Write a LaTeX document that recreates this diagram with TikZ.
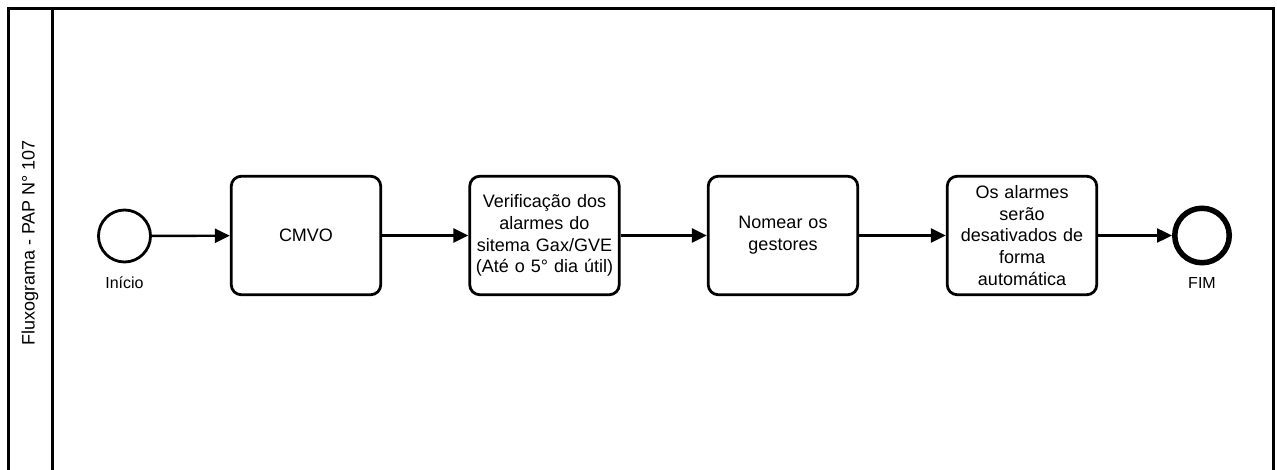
\documentclass[tikz,border=0pt]{standalone}
\usepackage{fontspec}
\setmainfont{Liberation Sans}
\usetikzlibrary{arrows.meta}
\begin{document}
\begin{tikzpicture}[x=1pt,y=-1pt,
  task/.style={draw, line width=2.8pt, rounded corners=10pt, minimum width=149.5pt, minimum height=118.5pt, inner sep=0pt, align=center, font=\fontsize{18}{21.8}\selectfont, text width=140pt},
  startev/.style={draw, circle, line width=2.8pt, minimum size=52pt, inner sep=0pt},
  endev/.style={draw, circle, line width=5.5pt, minimum size=54.5pt, inner sep=0pt},
  lbl/.style={font=\fontsize{16}{19}\selectfont, inner sep=0pt},
  flow/.style={line width=2.4pt, -{Triangle[length=15pt,width=14pt]}},
  frame/.style={line width=3pt}]
\useasboundingbox (0,0) rectangle (1277,470);
\clip (0,0) rectangle (1277,470);
\fill[white] (0,0) rectangle (1277,470);
\draw[frame] (8,480) -- (8,8.5) -- (1273.5,8.5) -- (1273.5,480);
\draw[frame] (52,8.5) -- (52,480);
\node[rotate=90, font=\fontsize{18}{21}\selectfont, inner sep=0pt] (lane) at (30,243) {Fluxograma - PAP N° 107};
\node[startev] (start) at (124.5,236) {};
\node[lbl] (startl) at (124.5,283) {Início};
\node[task] (t1) at (306,235.5) {CMVO};
\node[task] (t2) at (544.5,235.5) {Verificação dos\\alarmes do\\sitema Gax/GVE\\(Até o 5° dia útil)};
\node[task] (t3) at (783,235.5) {Nomear os\\gestores};
\node[task] (t4) at (1022,235.5) {Os alarmes\\serão\\desativados de\\forma\\automática};
\node[endev] (end) at (1202,235.5) {};
\node[lbl] (endl) at (1202,283) {FIM};
\draw[flow] (start) -- (t1);
\draw[flow] (t1) -- (t2);
\draw[flow] (t2) -- (t3);
\draw[flow] (t3) -- (t4);
\draw[flow] (t4) -- (end);
\end{tikzpicture}
\end{document}
